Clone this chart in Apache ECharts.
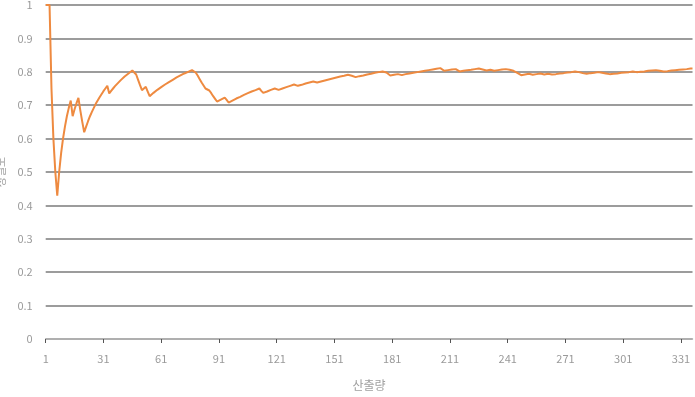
<!DOCTYPE html>
<html>
<head>
<meta charset="utf-8">
<script src="https://cdn.jsdelivr.net/npm/echarts@6/dist/echarts.min.js"></script>
<style>
html,body{margin:0;padding:0;background:#fff;}
#chart{width:695px;height:397px;}
</style>
</head>
<body>
<div id="chart"></div>
<script>
// precision values, one per output rank 1..337
const precision = [
1.000,1.000,1.000,0.750,0.600,0.500,0.429,0.500,0.556,0.600,
0.636,0.667,0.692,0.714,0.667,0.688,0.706,0.722,0.684,0.650,
0.619,0.636,0.652,0.667,0.680,0.692,0.704,0.714,0.724,0.733,
0.742,0.750,0.758,0.735,0.743,0.750,0.757,0.763,0.769,0.775,
0.780,0.786,0.791,0.795,0.800,0.804,0.809,0.792,0.776,0.760,
0.745,0.750,0.755,0.741,0.727,0.732,0.737,0.741,0.746,0.750,
0.754,0.758,0.762,0.766,0.769,0.773,0.776,0.779,0.783,0.786,
0.789,0.792,0.795,0.797,0.800,0.803,0.805,0.808,0.797,0.788,
0.778,0.768,0.759,0.750,0.753,0.744,0.736,0.727,0.719,0.711,
0.714,0.717,0.720,0.723,0.716,0.708,0.711,0.714,0.717,0.720,
0.723,0.725,0.728,0.731,0.733,0.736,0.738,0.741,0.743,0.745,
0.748,0.750,0.743,0.737,0.739,0.741,0.744,0.746,0.748,0.750,
0.752,0.746,0.748,0.750,0.752,0.754,0.756,0.758,0.760,0.762,
0.763,0.758,0.759,0.761,0.763,0.765,0.766,0.768,0.770,0.771,
0.773,0.768,0.769,0.771,0.772,0.774,0.776,0.777,0.779,0.780,
0.781,0.783,0.784,0.786,0.787,0.788,0.790,0.791,0.792,0.788,
0.783,0.784,0.785,0.787,0.788,0.789,0.790,0.792,0.793,0.794,
0.795,0.797,0.798,0.799,0.800,0.801,0.802,0.798,0.793,0.789,
0.790,0.791,0.792,0.793,0.789,0.790,0.791,0.793,0.794,0.795,
0.796,0.797,0.798,0.799,0.800,0.801,0.802,0.803,0.804,0.805,
0.806,0.807,0.808,0.809,0.810,0.811,0.807,0.803,0.804,0.805,
0.806,0.807,0.808,0.808,0.805,0.801,0.802,0.803,0.804,0.805,
0.805,0.806,0.807,0.808,0.809,0.810,0.811,0.807,0.808,0.804,
0.805,0.806,0.807,0.803,0.804,0.805,0.806,0.807,0.808,0.808,
0.805,0.806,0.807,0.803,0.800,0.797,0.794,0.790,0.791,0.792,
0.793,0.794,0.794,0.791,0.792,0.793,0.794,0.795,0.792,0.792,
0.793,0.794,0.795,0.792,0.792,0.793,0.794,0.795,0.796,0.796,
0.797,0.798,0.799,0.799,0.800,0.801,0.801,0.799,0.799,0.796,
0.794,0.794,0.795,0.796,0.796,0.797,0.798,0.799,0.796,0.797,
0.797,0.795,0.792,0.793,0.793,0.794,0.795,0.795,0.796,0.797,
0.797,0.798,0.799,0.799,0.800,0.801,0.798,0.799,0.799,0.800,
0.801,0.801,0.802,0.803,0.803,0.804,0.804,0.805,0.803,0.803,
0.804,0.801,0.802,0.802,0.803,0.804,0.804,0.805,0.805,0.806,
0.807,0.807,0.808,0.808,0.809,0.810,0.810
];
const categories = precision.map((_, i) => String(i + 1));
const xLabelStep = 30;
const yTicks = [0, 0.1, 0.2, 0.3, 0.4, 0.5, 0.6, 0.7, 0.8, 0.9, 1];
const xName = '산출량';
const yName = '정밀도';

const font = "'Noto Sans CJK KR', 'Noto Sans', sans-serif";
const chart = echarts.init(document.getElementById('chart'), null, {renderer: 'canvas'});
chart.setOption({
  animation: false,
  backgroundColor: '#ffffff',
  grid: {left: 45.7, right: 2.5, top: 5, bottom: 58, containLabel: false, outerBoundsMode: 'none'},
  xAxis: {
    type: 'category',
    data: categories,
    boundaryGap: false,
    name: xName,
    nameLocation: 'middle',
    nameGap: 40,
    nameTextStyle: {color: '#a0a0a0', fontSize: 12, fontFamily: font},
    axisLine: {show: true, lineStyle: {color: '#b5b5b5', width: 1.5}},
    axisTick: {show: true, length: 4, interval: (i) => i % xLabelStep === 0, lineStyle: {color: '#555', width: 1}},
    axisLabel: {interval: (i) => i % xLabelStep === 0, color: '#9a9a9a', fontSize: 11, fontFamily: font, margin: 14},
    splitLine: {show: false}
  },
  yAxis: {
    type: 'value',
    min: yTicks[0],
    max: yTicks[yTicks.length - 1],
    interval: 0.1,
    name: yName,
    nameLocation: 'middle',
    nameGap: 38,
    nameRotate: 90,
    nameTextStyle: {color: '#a0a0a0', fontSize: 11, fontFamily: font},
    axisLine: {show: false},
    axisTick: {show: false},
    axisLabel: {color: '#9a9a9a', fontSize: 11, fontFamily: font, margin: 13,
      formatter: (v) => String(Math.round(v * 10) / 10)},
    splitLine: {show: true, lineStyle: {color: '#9c9c9c', width: 2}}
  },
  series: [{
    type: 'line',
    data: precision,
    symbol: 'none',
    smooth: false,
    lineStyle: {color: '#EE8A40', width: 2},
    z: 3
  }]
});
</script>
</body>
</html>
